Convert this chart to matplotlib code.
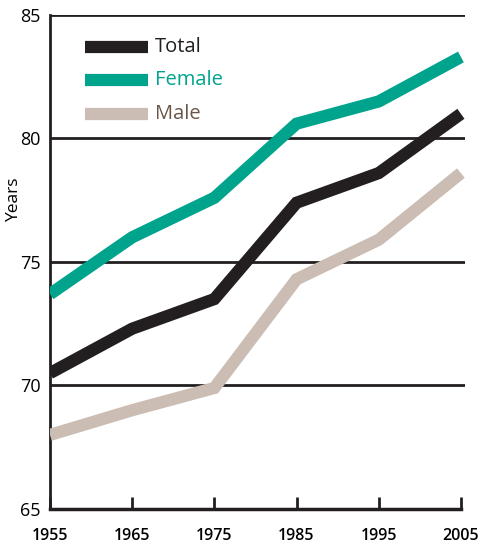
import matplotlib
matplotlib.use("Agg")
import matplotlib.pyplot as plt

years = [1955, 1965, 1975, 1985, 1995, 2005]
total = [70.5, 72.3, 73.5, 77.4, 78.6, 81.0]
female = [73.7, 76.0, 77.6, 80.6, 81.5, 83.3]
male = [68.0, 69.0, 69.9, 74.3, 75.9, 78.6]
series_names = ["Total", "Female", "Male"]
y_ticks = [65, 70, 75, 80, 85]

plt.rcParams["font.family"] = ["Open Sans", "DejaVu Sans"]

c_total = "#231f20"
c_female = "#00a38b"
c_male = "#cbbdb3"
c_male_text = "#6b5748"

fig = plt.figure(figsize=(4.81, 5.46), dpi=100)
ax = fig.add_axes([50 / 481, 1 - 509 / 546, 415 / 481, 494 / 546])

ax.set_xlim(1955, 2005.5)
ax.set_ylim(65, 85)

for yv in y_ticks[1:]:
    ax.axhline(yv, color=c_total, lw=2.0, zorder=1)

lw = 8.8
ax.plot(years, male, color=c_male, lw=lw, solid_capstyle="butt", solid_joinstyle="miter", zorder=3)
ax.plot(years, total, color=c_total, lw=lw, solid_capstyle="butt", solid_joinstyle="miter", zorder=3)
ax.plot(years, female, color=c_female, lw=lw, solid_capstyle="butt", solid_joinstyle="miter", zorder=3)

for s in ["top", "right"]:
    ax.spines[s].set_visible(False)
ax.spines["left"].set_linewidth(2.0)
ax.spines["bottom"].set_linewidth(2.5)
ax.spines["left"].set_color(c_total)
ax.spines["bottom"].set_color(c_total)
ax.spines["bottom"].set_bounds(1955, 2005)

ax.set_xticks(years)
ax.set_xticklabels([str(y) for y in years])
ax.set_yticks(y_ticks)
ax.tick_params(axis="x", direction="in", length=9, width=2, color=c_total,
               labelsize=11.5, pad=14)
ax.tick_params(axis="y", length=0, labelsize=13, pad=7)
for lab in ax.get_xticklabels():
    lab.set_fontweight("semibold")

fig.text(14 / 481, 1 - 200 / 546, "Years", rotation=90, ha="center", va="center", fontsize=12.5)

# legend drawn as short line samples with labels
leg_x0, leg_x1 = 1959.3, 1966.9
leg_ys = [83.7, 82.35, 81.0]
leg_colors = [c_total, c_female, c_male]
text_colors = [c_total, c_female, c_male_text]
for name, yv, col, tcol in zip(series_names, leg_ys, leg_colors, text_colors):
    ax.plot([leg_x0, leg_x1], [yv, yv], color=col, lw=lw, solid_capstyle="butt", zorder=4)
    ax.text(1967.8, yv, name, color=tcol, fontsize=14.5, va="center", ha="left")

fig.savefig("out.png", dpi=100)
